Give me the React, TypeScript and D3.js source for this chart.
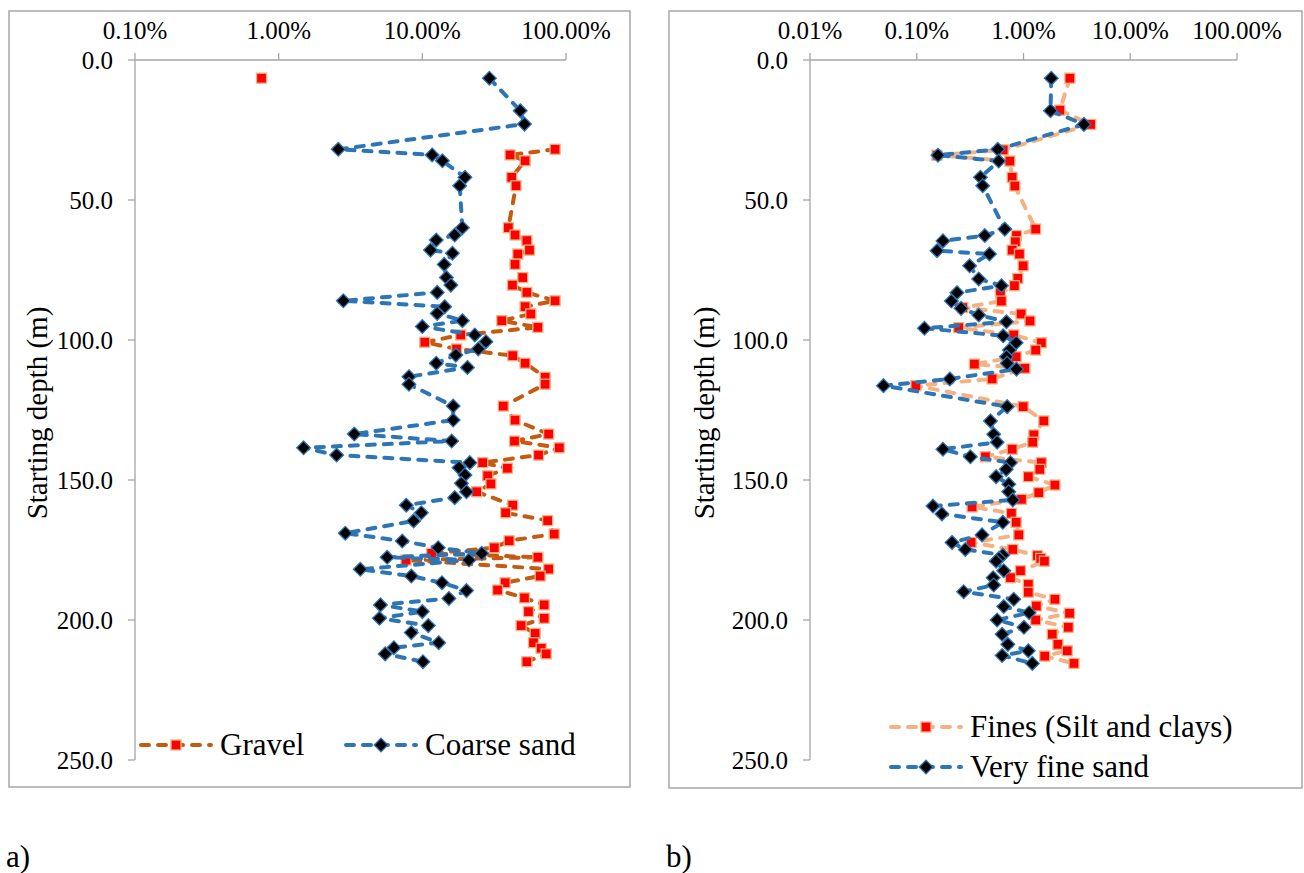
import React from "react";
import * as d3 from "d3";

// depth axis (m) and percent tick values
const depthTicks = [0, 50, 100, 150, 200, 250];
const pctTicksA = [0.1, 1, 10, 100];
const pctTicksB = [0.01, 0.1, 1, 10, 100];

// a) gravel, % by starting depth (null = no value, line breaks)
const gravelDepth = [6.5, 18.1, 22.9, 31.9, 33.9, 36.0, 41.9, 44.9, 59.9, 62.5, 64.5, 67.9, 69.3, 73.0, 77.7, 80.4, 83.0, 86.0, 88.1, 90.7, 93.1, 95.5, 98.2, 100.8, 103.2, 105.6, 108.3, 113.3, 115.8, 123.6, 128.6, 133.6, 136.1, 138.5, 141.1, 143.8, 145.8, 148.5, 151.4, 154.2, 159.0, 161.7, 164.5, 169.3, 171.7, 174.2, 176.2, 177.6, 178.6, 181.8, 184.3, 186.7, 189.3, 192.1, 194.6, 197.0, 199.4, 202.0, 204.8, 208.1, 210.1, 212.1, 214.9];
const gravelPct = [0.76, null, null, 84, 40.8, 51.9, 41.9, 44.9, 39.7, 44.2, 53.4, 55.7, 46.2, 44.2, 50, 42.4, 53.4, 84, 51.9, 56.9, 35.7, 63.7, 18.5, 10.4, 17.3, 42.6, 51.9, 71.6, 71.6, 36.6, 44.2, 75.7, 43.8, 89.8, 64.4, 26.3, 39.1, 28.5, 30, 23.9, 42.6, 38, 74.5, 82.8, 40.2, 31.7, 11.6, 63.7, 7.7, 75.7, 66.1, 37.7, 33.4, 51.4, 70.5, 54.8, 70.5, 48.7, 61, 59.4, 67.2, 72.8, 53.4];

// a) coarse sand
const coarseDepth = [6.5, 18.1, 22.9, 31.9, 33.9, 36.0, 41.9, 44.9, 59.9, 62.5, 64.3, 67.9, 69.0, 73.0, 77.7, 80.4, 83.0, 86.0, 88.1, 90.5, 93.1, 95.2, 98.2, 100.6, 103.2, 105.4, 108.3, 109.8, 113.1, 115.8, 123.6, 128.6, 133.6, 136.1, 138.5, 141.1, 143.8, 145.6, 148.2, 151.2, 154.2, 156.3, 159.0, 161.7, 164.6, 169.0, 171.8, 174.2, 176.2, 177.6, 178.6, 181.9, 184.3, 186.7, 189.5, 192.3, 194.6, 197.0, 199.4, 202.0, 204.5, 208.1, 209.9, 212.1, 214.9];
const coarsePct = [29.3, 48, 51.4, 2.6, 11.7, 13.8, 19.8, 18.2, 19, 16.8, 12.5, 11.4, 16.2, 14.2, 14.7, 15.8, 12.7, 2.82, 14.3, 12.7, 19, 10, 23.2, 27.7, 24.5, 17.1, 12.5, 20.6, 8.07, 8.07, 16.4, 16.4, 3.36, 16, 1.49, 2.53, 21.4, 18, 19.8, 18.7, 20.3, 16.8, 7.73, 9.84, 8.69, 2.91, 7.25, 12.9, 25.9, 5.69, 21.1, 3.7, 8.38, 13.7, 20.3, 15.3, 5.11, 10, 5.03, 11, 8.38, 13, 6.34, 5.51, 10.1];

// b) fines (silt and clays)
const finesDepth = [6.5, 17.9, 23.0, 32.1, 34.0, 36.1, 41.9, 45.0, 60.4, 62.7, 64.9, 67.9, 69.3, 73.5, 78.0, 80.6, 83.3, 86.1, 88.4, 90.7, 93.2, 95.6, 98.2, 101.0, 103.6, 106.0, 108.6, 110.1, 113.9, 116.3, 123.8, 128.9, 133.9, 136.5, 139.0, 141.7, 143.8, 146.2, 148.8, 151.8, 154.5, 156.9, 159.6, 161.9, 165.1, 169.6, 172.3, 174.8, 177.0, 178.0, 179.0, 182.4, 184.9, 187.3, 190.1, 192.6, 195.0, 197.6, 200.0, 202.6, 205.1, 208.7, 211.0, 212.9, 215.5];
const finesPct = [2.72, 2.19, 4.26, 0.646, 0.155, 0.745, 0.783, 0.83, 1.3, 0.86, 0.84, 0.783, 0.917, 0.993, 0.885, 0.823, 0.608, 0.621, 0.27, 0.95, 1.15, 0.247, 0.81, 1.47, 1.3, 0.853, 0.347, 1.03, 0.508, 0.0982, 0.993, 1.55, 1.25, 1.22, 0.783, 0.44, 1.47, 1.42, 1.11, 1.97, 1.39, 0.958, 0.33, 0.771, 0.853, 0.904, 0.323, 0.794, 1.35, 1.45, 1.57, 0.937, 0.755, 1.11, 1.11, 1.97, 1.32, 2.7, 1.3, 2.63, 1.86, 2.1, 2.57, 1.58, 2.97];

// b) very fine sand
const vfsDepth = [6.5, 18.1, 23.0, 31.9, 34.0, 36.1, 41.9, 44.9, 60.4, 62.7, 64.6, 68.1, 69.3, 73.5, 78.2, 80.6, 83.1, 86.1, 88.7, 91.1, 93.5, 95.8, 98.5, 101.0, 103.6, 106.0, 108.3, 110.4, 113.9, 116.3, 123.8, 128.9, 133.7, 136.5, 139.0, 141.7, 143.8, 146.2, 148.8, 151.5, 154.2, 157.1, 159.3, 162.1, 165.1, 169.6, 172.3, 174.8, 176.8, 178.0, 179.0, 182.4, 184.9, 187.5, 189.9, 192.6, 195.2, 197.4, 200.0, 202.6, 205.1, 208.7, 211.0, 212.7, 215.5];
const vfsPct = [1.82, 1.79, 3.68, 0.574, 0.158, 0.586, 0.395, 0.415, 0.668, 0.434, 0.176, 0.155, 0.48, 0.313, 0.381, 0.621, 0.238, 0.211, 0.26, 0.381, 0.692, 0.118, 0.645, 0.853, 0.739, 0.692, 0.703, 0.86, 0.204, 0.0488, 0.703, 0.49, 0.526, 0.566, 0.176, 0.318, 0.755, 0.689, 0.554, 0.728, 0.728, 0.794, 0.142, 0.172, 0.64, 0.409, 0.214, 0.285, 0.64, 0.59, 0.554, 0.653, 0.519, 0.526, 0.275, 0.81, 0.653, 1.13, 0.566, 1.01, 0.631, 0.713, 1.11, 0.631, 1.21];

const SERIF = '"Liberation Serif", serif';
const GRAY = "#a6a6a6";
const DASH = "8,9";
const LINE_W = 4;

const diamond = d3.symbol().type(d3.symbolDiamond2).size(120)();

function Markers({ pts, kind }) {
  if (kind === "square") {
    return (
      <g>
        {pts.map((p, i) => (
          <rect key={i} x={p[0] - 5} y={p[1] - 5} width={10} height={10}
            fill="#ff0000" stroke="#f4b183" strokeWidth={1.3} />
        ))}
      </g>
    );
  }
  return (
    <g>
      {pts.map((p, i) => (
        <path key={i} d={diamond} transform={`translate(${p[0]},${p[1]})`}
          fill="#000" stroke="#2e75b6" strokeWidth={1.3} />
      ))}
    </g>
  );
}

function Panel({ cfg }) {
  const x = d3.scaleLog().domain(cfg.xDomain).range(cfg.xRange);
  const y = d3.scaleLinear().domain([0, 250]).range([60, 760]);
  const x0 = cfg.xRange[0];
  const line = d3.line()
    .defined((d) => d[1] != null)
    .x((d) => x(d[1]))
    .y((d) => y(d[0]));
  const [fx0, fy0, fx1, fy1] = cfg.frame;

  return (
    <g>
      <rect x={fx0} y={fy0} width={fx1 - fx0} height={fy1 - fy0}
        fill="white" stroke={GRAY} strokeWidth={1.5} />

      {/* top percent axis */}
      <line x1={x0} x2={cfg.xRange[1]} y1={y(0)} y2={y(0)} stroke={GRAY} strokeWidth={1.3} />
      {cfg.ticks.map((t) => (
        <g key={t}>
          <line x1={x(t)} x2={x(t)} y1={y(0) - 7} y2={y(0)} stroke={GRAY} strokeWidth={1.3} />
          <text x={x(t)} y={y(0) - 21} textAnchor="middle"
            style={{ fontFamily: SERIF, fontSize: 25 }}>{t.toFixed(2) + "%"}</text>
        </g>
      ))}

      {/* left depth axis */}
      <line x1={x0} x2={x0} y1={y(0)} y2={y(250)} stroke={GRAY} strokeWidth={1.3} />
      {depthTicks.map((d) => (
        <g key={d}>
          <line x1={x0 - 7} x2={x0} y1={y(d)} y2={y(d)} stroke={GRAY} strokeWidth={1.3} />
          <text x={x0 - 22} y={y(d)} dy="0.34em" textAnchor="end"
            style={{ fontFamily: SERIF, fontSize: 25 }}>{d.toFixed(1)}</text>
        </g>
      ))}

      <text transform={`translate(${cfg.titleX},413) rotate(-90)`} textAnchor="middle" dy="0.35em"
        style={{ fontFamily: SERIF, fontSize: 29 }}>Starting depth (m)</text>

      {cfg.series.map((s) => {
        const pts = s.depth.map((dp, i) => [dp, s.pct[i]]);
        const valid = pts.filter((d) => d[1] != null).map((d) => [x(d[1]), y(d[0])]);
        return (
          <g key={s.name}>
            <path d={line(pts)} fill="none" stroke={s.color} strokeWidth={LINE_W}
              strokeDasharray={DASH} strokeLinecap="round" />
            <Markers pts={valid} kind={s.marker} />
          </g>
        );
      })}

      {cfg.legend.map((l) => {
        const s = cfg.series[l.idx];
        return (
          <g key={s.name}>
            <line x1={l.x} x2={l.x + 70} y1={l.y} y2={l.y} stroke={s.color} strokeWidth={LINE_W}
              strokeDasharray={DASH} strokeLinecap="round" />
            <Markers pts={[[l.x + 35, l.y]]} kind={s.marker} />
            <text x={l.x + 79} y={l.y} dy="0.33em" style={{ fontFamily: SERIF, fontSize: 31 }}>{s.name}</text>
          </g>
        );
      })}

      <text x={cfg.tag[0]} y={cfg.tag[1]} dy="0.33em" style={{ fontFamily: SERIF, fontSize: 31 }}>{cfg.tagText}</text>
    </g>
  );
}

const panelA = {
  frame: [9, 11, 630, 787],
  xDomain: [0.1, 100],
  xRange: [135, 566],
  ticks: pctTicksA,
  titleX: 37,
  series: [
    { name: "Gravel", depth: gravelDepth, pct: gravelPct, color: "#c55a11", marker: "square" },
    { name: "Coarse sand", depth: coarseDepth, pct: coarsePct, color: "#2e75b6", marker: "diamond" },
  ],
  legend: [
    { idx: 0, x: 141, y: 745 },
    { idx: 1, x: 346, y: 745 },
  ],
  tag: [6, 857],
  tagText: "a)",
};

const panelB = {
  frame: [669, 11, 1302, 788],
  xDomain: [0.01, 100],
  xRange: [810, 1237],
  ticks: pctTicksB,
  titleX: 704,
  series: [
    { name: "Fines (Silt and clays)", depth: finesDepth, pct: finesPct, color: "#f4b183", marker: "square" },
    { name: "Very fine sand", depth: vfsDepth, pct: vfsPct, color: "#2e75b6", marker: "diamond" },
  ],
  legend: [
    { idx: 0, x: 891, y: 727 },
    { idx: 1, x: 891, y: 767 },
  ],
  tag: [666, 857],
  tagText: "b)",
};

export default function App() {
  return (
    <svg width={1304} height={873}
      style={{ position: "absolute", left: 0, top: 0, background: "white" }}>
      <Panel cfg={panelA} />
      <Panel cfg={panelB} />
    </svg>
  );
}
